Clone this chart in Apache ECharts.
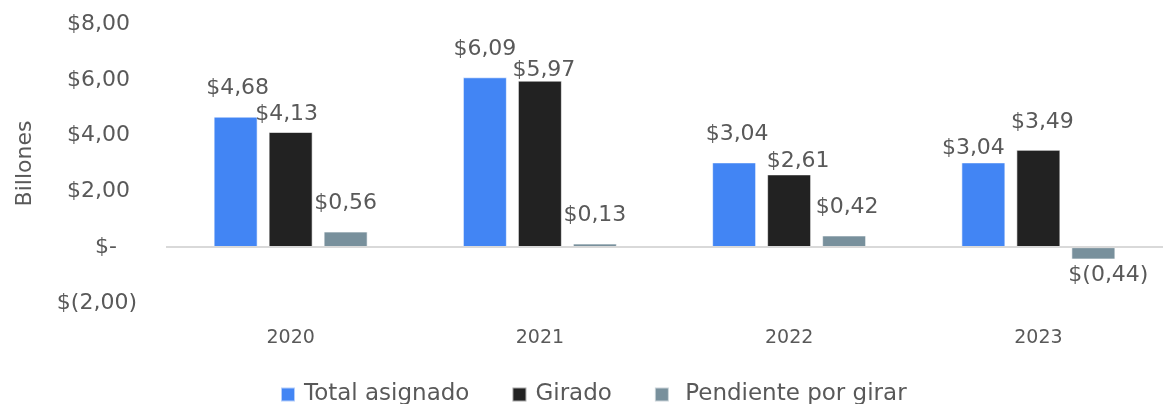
<!DOCTYPE html>
<html>
<head>
<meta charset="UTF-8" />
<title>Billones por año</title>
<script src="https://cdn.jsdelivr.net/npm/echarts@6/dist/echarts.min.js"></script>
<style>
  html, body { margin: 0; padding: 0; background: #fff; }
  #main { width: 1163px; height: 404px; }
</style>
</head>
<body>
<div id="main"></div>
<script>
var years = ['2020', '2021', '2022', '2023'];
var seriesNames = ['Total asignado', 'Girado', 'Pendiente por girar'];
var totalAsignado = [4.68, 6.09, 3.04, 3.04];
var girado = [4.13, 5.97, 2.61, 3.49];
var pendiente = [0.56, 0.13, 0.42, -0.44];
var colors = ['#4285F4', '#222222', '#78909C'];

var FONT = 'DejaVu Sans';
var TEXT = '#595959';

// label nudges (like Excel moves overlapping labels): [series][year] = [dx, distance]
var nudges = [
    [[2, 17], [0, 17], [3, 17], [-10, 3]],
    [[-4, 7], [4, -1], [9, 2], [4, 17]],
    [[0, 17], [0, 17], [3, 17], [15, 5]]
];

function money(v) {
    if (Math.abs(v) < 1e-9) return '$-';
    var s = Math.abs(v).toFixed(2).replace('.', ',');
    return v < 0 ? '$(' + s + ')' : '$' + s;
}

function barSeries(idx, data) {
    return {
        name: seriesNames[idx],
        type: 'bar',
        barWidth: 44,
        barGap: '25%',
        itemStyle: { color: colors[idx], borderColor: 'rgba(255,255,255,0.6)', borderWidth: 1 },
        label: {
            show: true,
            position: 'top',
            color: TEXT,
            fontFamily: FONT,
            fontSize: 22,
            formatter: function (p) { return money(p.value); }
        },
        data: data.map(function (v, i) {
            var n = nudges[idx][i];
            return {
                value: v,
                label: { position: v < 0 ? 'bottom' : 'top', distance: n[1], offset: [n[0], 0] }
            };
        }),
        markLine: idx === 2 ? {
            silent: true,
            symbol: 'none',
            label: { show: false },
            lineStyle: { color: '#d9d9d9', width: 2, type: 'solid' },
            data: [{ yAxis: 0 }]
        } : undefined
    };
}

var chart = echarts.init(document.getElementById('main'));
chart.setOption({
    animation: false,
    grid: { left: 166, right: 0, top: 24, bottom: 101 },
    legend: {
        top: 378,
        left: 275,
        itemWidth: 14,
        itemHeight: 14,
        itemGap: 42,
        icon: 'rect',
        formatter: function (n) { return n === 'Pendiente por girar' ? ' ' + n : n; },
        textStyle: { color: TEXT, fontFamily: FONT, fontSize: 23, padding: [0, 0, 0, 4] },
        data: seriesNames
    },
    xAxis: {
        type: 'category',
        data: years,
        axisLine: { show: false, onZero: false },
        axisTick: { show: false },
        axisLabel: { color: TEXT, fontFamily: FONT, fontSize: 19, margin: 26 }
    },
    yAxis: {
        type: 'value',
        min: -2,
        max: 8,
        interval: 2,
        name: 'Billones',
        nameLocation: 'middle',
        nameGap: 130,
        nameTextStyle: { color: TEXT, fontFamily: FONT, fontSize: 22 },
        splitLine: { show: false },
        axisLine: { show: false },
        axisTick: { show: false },
        axisLabel: {
            margin: 29,
            formatter: function (v) {
                if (Math.abs(v) < 1e-9) return '{z|' + money(v) + '}';
                return v < 0 ? '{n|' + money(v) + '}' : '{p|' + money(v) + '}';
            },
            rich: {
                p: { color: TEXT, fontFamily: FONT, fontSize: 22, padding: [0, 7, 0, 0] },
                n: { color: TEXT, fontFamily: FONT, fontSize: 22 },
                z: { color: TEXT, fontFamily: FONT, fontSize: 22, padding: [0, 20, 0, 0] }
            }
        }
    },
    series: [
        barSeries(0, totalAsignado),
        barSeries(1, girado),
        barSeries(2, pendiente)
    ]
});
</script>
</body>
</html>
